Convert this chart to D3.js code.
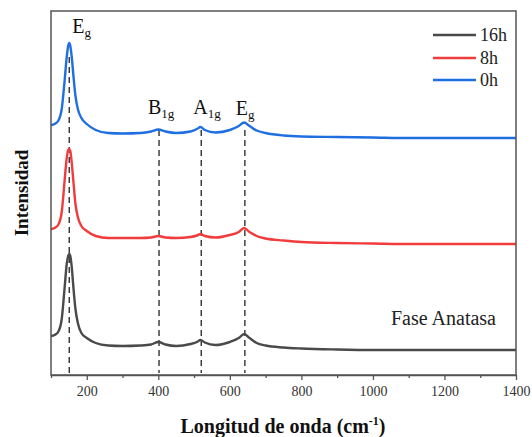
<!DOCTYPE html>
<html>
<head>
<meta charset="utf-8">
<script src="https://cdn.jsdelivr.net/npm/d3@7/dist/d3.min.js"></script>
<style>
  html, body { margin: 0; padding: 0; background: #fff; }
  svg { display: block; }
</style>
</head>
<body>
<svg id="chart" width="532" height="437"></svg>
<script>
// Raman shift (cm^-1) sample positions shared by all spectra
const shift = [100, 110, 120, 130, 138, 144, 148, 151, 154, 158, 163, 168, 175, 185, 200, 225, 260, 300, 350, 380, 400, 420, 450, 490, 508, 518, 530, 560, 600, 625, 640, 655, 675, 700, 750, 800, 900, 1000, 1100, 1200, 1300, 1400];

// Stacked intensities (a.u., offset per sample)
const int0h  = [250, 251, 254, 266, 294, 318, 329, 332, 329, 318, 298, 280, 266, 257, 251, 245, 242, 241.5, 242, 243.5, 245.5, 243.5, 242, 243.5, 246, 248, 245, 242.5, 245, 249, 252.5, 249, 244.5, 242, 239.5, 238.5, 238, 237.5, 237, 237, 237, 237];
const int8h  = [146, 147, 150, 163, 194, 217, 225, 226, 224, 212, 192, 172, 158, 149, 144, 139, 137, 137, 137, 137.5, 139, 137.5, 137, 138, 139.5, 141, 139, 137.5, 140, 143, 147, 143, 139, 136.5, 134.5, 133, 132, 131.5, 131, 131, 131, 131];
const int16h = [39, 40, 43, 56, 87, 111, 119, 121, 119, 108, 86, 67, 52, 42, 37, 32, 29.5, 29, 29.5, 30.5, 33, 30.5, 29, 31, 33, 35, 32.5, 30, 33, 37, 41, 37, 32, 29.5, 27.5, 26.5, 25.5, 25, 25, 25, 25, 25];

const seriesNames  = ["16h", "8h", "0h"];
const seriesColors = ["#4a4a4a", "#f03c3c", "#1f6fe0"];

// Anatase Raman modes marked with dashed guides
const modeNames  = ["E", "B", "A", "E"];
const modeSubs   = ["g", "1g", "1g", "g"];
const modeShifts = [151, 402, 520, 642];
const modeTops   = [318, 245, 245, 245];

const xTicks      = [200, 400, 600, 800, 1000, 1200, 1400];
const xMinorTicks = [100, 300, 500, 700, 900, 1100, 1300];

const serif = "Liberation Serif";

// make sure the serif faces are ready before any text is laid out
const probe = document.createElement("canvas").getContext("2d");
probe.font = `17px "${serif}"`; probe.measureText("Fase 0123");
probe.font = `bold 17px "${serif}"`; probe.measureText("Longitud");

Promise.all([
  document.fonts.load(`17px "${serif}"`),
  document.fonts.load(`bold 17px "${serif}"`)
]).catch(() => {}).then(draw);

function draw() {
  const svg = d3.select("#chart");
  const m = { left: 51, top: 11, right: 516, bottom: 375 };

  const x = d3.scaleLinear().domain([100, 1400]).range([m.left, m.right]);
  const y = d3.scaleLinear().domain([0, 364]).range([m.bottom, m.top]);

  // dashed mode guides
  const guides = svg.append("g");
  modeShifts.forEach((s, i) => {
    guides.append("line")
      .attr("x1", x(s)).attr("x2", x(s))
      .attr("y1", y(modeTops[i])).attr("y2", m.bottom - 2)
      .attr("stroke", "#222").attr("stroke-width", 1.3)
      .attr("stroke-dasharray", "6,4");
  });

  // spectra
  const spectra = [int16h, int8h, int0h];
  const line = d3.line()
    .x((d, i) => x(shift[i]))
    .y(d => y(d))
    .curve(d3.curveMonotoneX);

  spectra.forEach((vals, k) => {
    svg.append("path")
      .datum(vals)
      .attr("fill", "none")
      .attr("stroke", seriesColors[k])
      .attr("stroke-width", 2.4)
      .attr("stroke-linejoin", "round")
      .attr("d", line);
  });

  // mode labels
  const labelDx = [3, -11, -8, -9];
  const labelY  = [33, 114, 114, 115];
  modeShifts.forEach((s, i) => {
    const t = svg.append("text")
      .attr("x", x(s) + labelDx[i])
      .attr("y", labelY[i])
      .attr("font-family", serif)
      .attr("font-size", 20)
      .attr("fill", "#111");
    t.append("tspan").text(modeNames[i]);
    t.append("tspan").attr("dy", 4).attr("font-size", 13).text(modeSubs[i]);
  });

  // frame
  svg.append("rect")
    .attr("x", m.left).attr("y", m.top)
    .attr("width", m.right - m.left).attr("height", m.bottom - m.top)
    .attr("fill", "none").attr("stroke", "#555").attr("stroke-width", 1.5);

  // bottom axis
  const ax = svg.append("g").attr("transform", `translate(0,${m.bottom})`)
    .call(d3.axisBottom(x).tickValues(xTicks).tickFormat(d3.format("d"))
      .tickSize(5).tickSizeOuter(0).tickPadding(6));
  ax.attr("font-family", serif);
  ax.select(".domain").attr("stroke", "#555").attr("stroke-width", 1.5);
  ax.selectAll(".tick line").attr("stroke", "#555").attr("stroke-width", 1.3);
  ax.selectAll(".tick text")
    .attr("font-family", serif)
    .attr("font-size", 14).attr("fill", "#333");

  const minor = svg.append("g").attr("transform", `translate(0,${m.bottom})`)
    .call(d3.axisBottom(x).tickValues(xMinorTicks).tickSize(3).tickSizeOuter(0).tickFormat(""));
  minor.select(".domain").remove();
  minor.selectAll(".tick line").attr("stroke", "#555").attr("stroke-width", 1.3);

  // legend
  const legendY = [35, 58, 80];
  seriesNames.forEach((n, i) => {
    svg.append("line")
      .attr("x1", 433).attr("x2", 476)
      .attr("y1", legendY[i]).attr("y2", legendY[i])
      .attr("stroke", seriesColors[i]).attr("stroke-width", 2.4);
    svg.append("text")
      .attr("x", 480).attr("y", legendY[i] + 6)
      .attr("font-family", serif)
      .attr("font-size", 18).attr("fill", "#222")
      .text(n);
  });

  // phase note
  svg.append("text")
    .attr("x", 391).attr("y", 325)
    .attr("font-family", serif)
    .attr("font-size", 20).attr("fill", "#222")
    .text("Fase Anatasa");

  // axis titles
  const xt = svg.append("text")
    .attr("x", 283).attr("y", 433)
    .attr("text-anchor", "middle")
    .attr("font-family", serif)
    .attr("font-size", 20).attr("font-weight", "bold").attr("fill", "#111");
  xt.append("tspan").text("Longitud de onda (cm");
  xt.append("tspan").attr("dy", -8).attr("font-size", 12).text("-1");
  xt.append("tspan").attr("dy", 8).text(")");

  svg.append("text")
    .attr("transform", "translate(28,193) rotate(-90)")
    .attr("text-anchor", "middle")
    .attr("font-family", serif)
    .attr("font-size", 19).attr("font-weight", "bold").attr("fill", "#111")
    .text("Intensidad");
}
</script>
</body>
</html>
